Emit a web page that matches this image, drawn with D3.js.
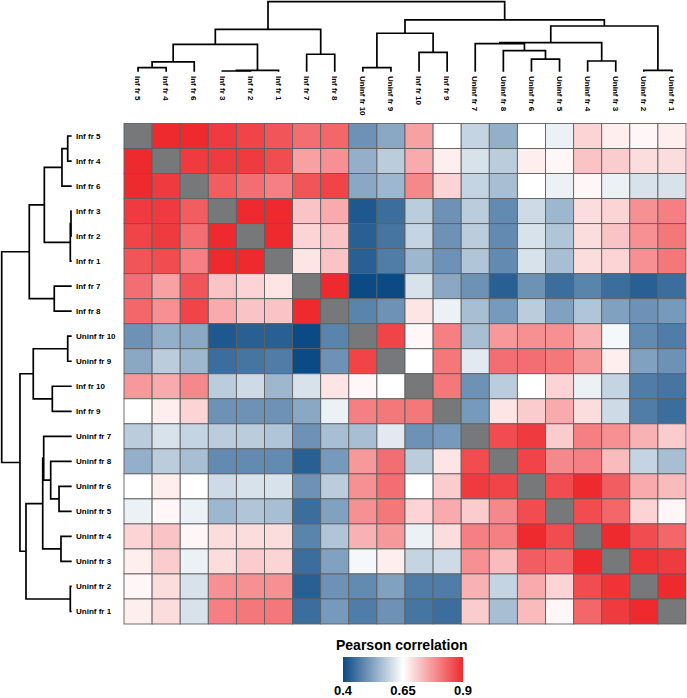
<!DOCTYPE html>
<html><head><meta charset="utf-8">
<script src="https://cdn.jsdelivr.net/npm/d3@7"></script>
<style>body{margin:0;background:#fff}svg{display:block}</style>
</head><body>
<svg id="c" width="687" height="698"></svg>
<script>
const labels = ["Inf fr 5","Inf fr 4","Inf fr 6","Inf fr 3","Inf fr 2","Inf fr 1","Inf fr 7","Inf fr 8",
  "Uninf fr 10","Uninf fr 9","Inf fr 10","Inf fr 9","Uninf fr 7","Uninf fr 8","Uninf fr 6","Uninf fr 5",
  "Uninf fr 4","Uninf fr 3","Uninf fr 2","Uninf fr 1"];

const corr = [
 [null,.90,.90,.88,.87,.85,.82,.83,.50,.53,.76,.65,.59,.54,.65,.63,.70,.67,.66,.67],
 [.90,null,.88,.88,.88,.86,.76,.78,.54,.58,.75,.67,.61,.58,.67,.66,.72,.71,.69,.69],
 [.90,.88,null,.84,.82,.80,.85,.87,.53,.55,.79,.70,.59,.56,.65,.63,.66,.63,.61,.61],
 [.88,.88,.84,null,.90,.90,.72,.75,.42,.45,.58,.50,.58,.49,.60,.55,.69,.70,.78,.80],
 [.87,.88,.82,.90,null,.90,.70,.72,.43,.46,.59,.50,.58,.49,.61,.57,.69,.72,.78,.81],
 [.85,.86,.80,.90,.90,null,.68,.72,.43,.47,.55,.50,.57,.49,.61,.56,.69,.70,.78,.81],
 [.82,.76,.85,.72,.70,.68,null,.90,.40,.40,.61,.53,.50,.43,.50,.45,.48,.45,.43,.45],
 [.83,.78,.87,.75,.72,.72,.90,null,.48,.50,.68,.63,.56,.51,.58,.52,.57,.52,.50,.51],
 [.50,.54,.53,.42,.43,.43,.40,.48,null,.87,.66,.80,.56,.77,.78,.78,.74,.64,.49,.47],
 [.53,.58,.55,.45,.46,.47,.40,.50,.87,null,.65,.81,.62,.82,.82,.81,.77,.67,.52,.50],
 [.77,.75,.79,.58,.60,.55,.61,.68,.66,.65,null,.81,.50,.58,.65,.70,.63,.59,.47,.46],
 [.65,.67,.70,.50,.50,.50,.53,.63,.80,.81,.81,null,.51,.68,.71,.75,.69,.60,.47,.45],
 [.58,.61,.59,.58,.58,.57,.50,.56,.56,.62,.50,.51,null,.86,.88,.71,.80,.78,.74,.71],
 [.54,.58,.56,.49,.49,.49,.43,.51,.77,.82,.58,.68,.86,null,.87,.79,.80,.73,.59,.56],
 [.65,.67,.65,.60,.61,.61,.50,.58,.78,.82,.65,.71,.88,.87,null,.86,.90,.84,.75,.73],
 [.63,.66,.63,.55,.57,.56,.45,.52,.78,.81,.70,.75,.71,.79,.86,null,.86,.83,.70,.66],
 [.70,.72,.66,.69,.69,.69,.48,.57,.74,.77,.63,.69,.80,.80,.90,.86,null,.90,.86,.83],
 [.67,.71,.63,.69,.71,.70,.45,.52,.64,.67,.59,.60,.78,.73,.84,.83,.90,null,.89,.88],
 [.66,.69,.61,.78,.78,.78,.43,.50,.49,.52,.47,.47,.74,.59,.75,.70,.86,.89,null,.90],
 [.67,.69,.61,.80,.81,.81,.45,.51,.47,.50,.46,.45,.71,.56,.73,.66,.83,.88,.90,null]
];

// dendrogram merges: children are "L<leaf index>" or "M<merge index>", with merge height (relative)
const mergeA = ["L3","M0","L18","L0","L8","M3","L16","L14","L6","L10","L13","M5","L12","M12","M4","M11","M13","M14","M15"];
const mergeB = ["L4","L5","L19","L1","L9","L2","L17","L15","L7","L11","M7","M1","M10","M6","M9","M8","M2","M16","M17"];
const mergeH = [0.01,0.02,0.02,0.057,0.057,0.139,0.153,0.181,0.249,0.277,0.30,0.391,0.40,0.414,0.549,0.606,0.653,0.739,1.0];

const legendTitle = "Pearson correlation";
const legendTicks = [0.4, 0.65, 0.9];
const legendTickLabels = ["0.4","0.65","0.9"];

const svg = d3.select("#c");
const n = labels.length;
const xS = d3.scaleBand().domain(d3.range(n)).range([124, 686]);
const yS = d3.scaleBand().domain(d3.range(n)).range([123.5, 624]);
const color = d3.scaleLinear().domain([0.4,0.65,0.9]).range(["#0b4a85","#ffffff","#ee2a2f"]).clamp(true);
const font = "'Liberation Sans', Arial, sans-serif";

// cells
const cells = [];
corr.forEach((row,i)=>row.forEach((v,j)=>cells.push({i,j,v})));
svg.append("g").selectAll("rect").data(cells).join("rect")
  .attr("x", d=>xS(d.j)).attr("y", d=>yS(d.i))
  .attr("width", xS.bandwidth()).attr("height", yS.bandwidth())
  .attr("fill", d=> d.v==null ? "#76787a" : color(d.v))
  .attr("stroke", "#5e6062").attr("stroke-width", 0.9);

// dendrograms
function dendro(posOfLeaf, hScale, horizontal){
  const pos = [], hgt = [];
  const get = id => id[0]==="L" ? {p:posOfLeaf(+id.slice(1)), h:0} : {p:pos[+id.slice(1)], h:hgt[+id.slice(1)]};
  const segs = [];
  mergeH.forEach((h,m)=>{
    const a = get(mergeA[m]), b = get(mergeB[m]);
    pos[m] = (a.p+b.p)/2; hgt[m] = h;
    const hy = hScale(h);
    segs.push([[a.p,hScale(a.h)],[a.p,hy],[b.p,hy],[b.p,hScale(b.h)]]);
  });
  const line = d3.line().x(d=>horizontal? d[1]:d[0]).y(d=>horizontal? d[0]:d[1]);
  return segs.map(s=>line(s));
}
const hTop = d3.scaleLinear().domain([0,1]).range([71.7,1.7]);
const hLeft = d3.scaleLinear().domain([0,1]).range([71.7,1.7]);
const topPaths = dendro(i=>xS(i)+xS.bandwidth()/2, hTop, false);
const leftPaths = dendro(i=>yS(i)+yS.bandwidth()/2, hLeft, true);
svg.append("g").selectAll("path").data(topPaths.concat(leftPaths)).join("path")
  .attr("d", d=>d).attr("fill","none").attr("stroke","#000").attr("stroke-width",1.7);

// labels
svg.append("g").selectAll("text").data(labels).join("text")
  .attr("transform",(d,i)=>`translate(${xS(i)+xS.bandwidth()/2},76) rotate(90)`)
  .attr("dy","0.35em").attr("font-family",font).attr("font-weight","bold").attr("font-size",8)
  .text(d=>d);
svg.append("g").selectAll("text").data(labels).join("text")
  .attr("x",76).attr("y",(d,i)=>yS(i)+yS.bandwidth()/2)
  .attr("dy","0.35em").attr("font-family",font).attr("font-weight","bold").attr("font-size",8)
  .text(d=>d);

// legend
const lx = d3.scaleLinear().domain([0.4,0.9]).range([343,463]);
const defs = svg.append("defs");
const grad = defs.append("linearGradient").attr("id","lg");
[0.4,0.65,0.9].forEach(v=>grad.append("stop").attr("offset",((v-0.4)/0.5*100)+"%").attr("stop-color",color(v)));
svg.append("rect").attr("x",lx(0.4)).attr("y",657).attr("width",lx(0.9)-lx(0.4)).attr("height",25).attr("fill","url(#lg)");
svg.append("text").attr("x",336).attr("y",650).attr("font-family",font).attr("font-weight","bold").attr("font-size",14).text(legendTitle);
svg.append("g").selectAll("text").data(legendTicks).join("text")
  .attr("x",d=>lx(d)).attr("y",695).attr("text-anchor","middle")
  .attr("font-family",font).attr("font-weight","bold").attr("font-size",13)
  .text((d,i)=>legendTickLabels[i]);
</script>
</body></html>
